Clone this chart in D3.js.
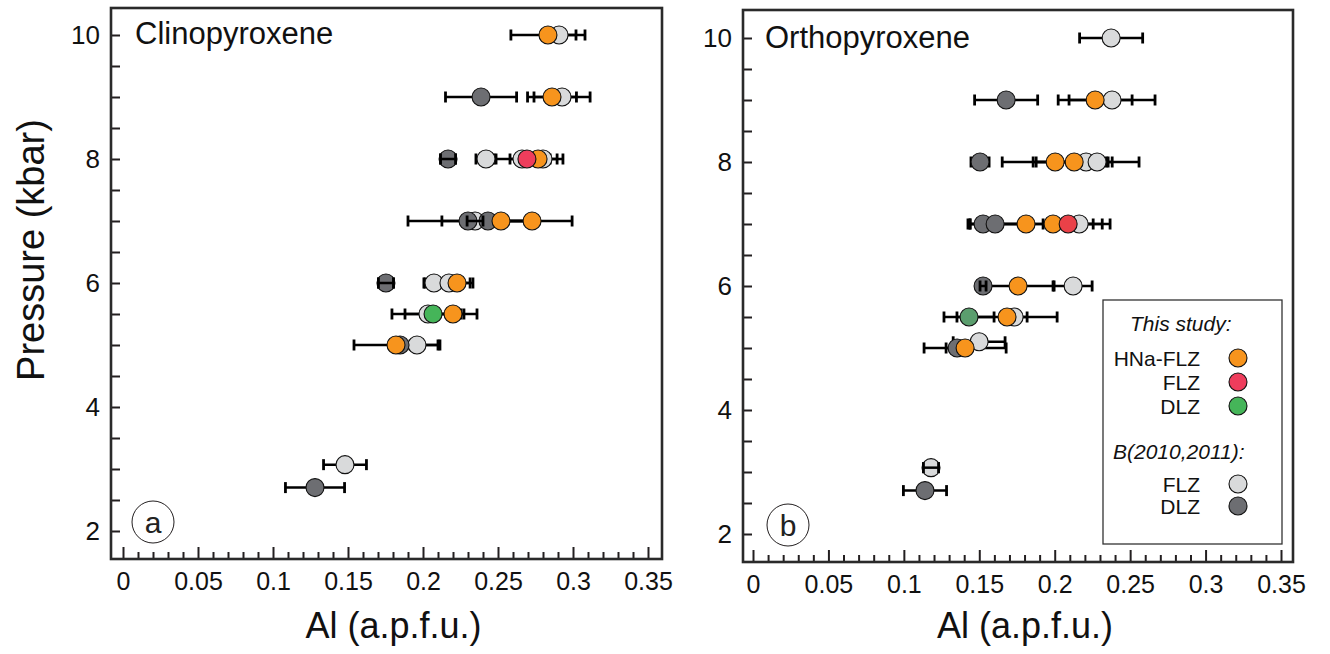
<!DOCTYPE html>
<html>
<head>
<meta charset="utf-8">
<script src="https://cdn.jsdelivr.net/npm/d3@7"></script>
<style>
  body { margin: 0; background: #fff; }
  svg { font-family: "Liberation Sans", Arial, sans-serif; }
</style>
</head>
<body>
<div id="chart"></div>
<script>
// ---- data: pressure (kbar), Al (a.p.f.u.), half error bar, group ----
// groups: bF = B(2010,2011) FLZ, bD = B(2010,2011) DLZ, hna = HNa-FLZ, flz = FLZ, dlz = DLZ

// Clinopyroxene
var cpxGroup = ["bF","bF","bF","bF","bF","bF","bF","bF","bF","bF","bF",
                "bD","bD","bD","bD","bD","bD","bD",
                "hna","hna","hna","hna","hna","hna","hna","hna",
                "flz","dlz"];
var cpxP   = [10, 9, 8, 8, 8, 7, 6, 6, 5.5, 5, 3.07,
              9, 8, 7, 7, 6, 5, 2.7,
              10, 9, 8, 7, 7, 6, 5.5, 5,
              8, 5.5];
var cpxAl  = [0.2907, 0.2927, 0.242, 0.266, 0.28, 0.2347, 0.2073, 0.2173, 0.2033, 0.196, 0.148,
              0.2387, 0.2167, 0.230, 0.2433, 0.1753, 0.1847, 0.128,
              0.2833, 0.286, 0.2767, 0.252, 0.2727, 0.2227, 0.22, 0.182,
              0.2693, 0.2067];
var cpxErr = [0.0113, 0.0187, 0.0067, 0.0187, 0.0133, 0.0053, 0.0067, 0.016, 0.024, 0.0153, 0.0143,
              0.0237, 0.005, 0.040, 0.0307, 0.005, 0.0067, 0.0197,
              0.0247, 0.0163, 0.0127, 0.0193, 0.0267, 0.0087, 0.016, 0.028,
              0.0113, 0.0187];

// Orthopyroxene
var opxGroup = ["bF","bF","bF","bF","bF","bF","bF","bF","bF",
                "bD","bD","bD","bD","bD","bD","bD",
                "hna","hna","hna","hna","hna","hna","hna","hna",
                "flz","dlz"];
var opxP   = [10, 9, 8, 8, 7, 6, 5.5, 5.1, 3.07,
              9, 8, 7, 7, 6, 5, 2.7,
              9, 8, 8, 7, 7, 6, 5.5, 5,
              7, 5.5];
var opxAl  = [0.2374, 0.238, 0.2208, 0.2281, 0.2162, 0.2122, 0.1731, 0.1499, 0.118,
              0.1678, 0.1505, 0.1525, 0.1605, 0.1525, 0.1353, 0.114,
              0.2268, 0.2003, 0.2129, 0.181, 0.1989, 0.1757, 0.1684, 0.1406,
              0.2089, 0.1432];
var opxErr = [0.0209, 0.0285, 0.0351, 0.006, 0.0153, 0.0126, 0.0086, 0.0172, 0.005,
              0.0209, 0.006, 0.0086, 0.0166, 0.002, 0.0073, 0.0143,
              0.0245, 0.0351, 0.0252, 0.0385, 0.0378, 0.0232, 0.0332, 0.0272,
              0.0166, 0.0166];

var xTicksMajor = [0, 0.05, 0.1, 0.15, 0.2, 0.25, 0.3, 0.35];
var yTickLabels = [2, 4, 6, 8, 10];

var legendStudy = ["HNa-FLZ", "FLZ", "DLZ"];
var legendStudyKeys = ["hna", "flz", "dlz"];
var legendB = ["FLZ", "DLZ"];
var legendBKeys = ["bF", "bD"];

var colors = {bF: "#D9DADB", bD: "#6D6E72", hna: "#F7941D", flz: "#EE3D5C", dlz: "#45B559"};
var colorsB = {bF: "#D9DADB", bD: "#6D6E72", hna: "#F7941D", flz: "#EA4148", dlz: "#5B9E6E"};

var W = 1330, H = 654, R = 9;

var svg = d3.select("#chart").append("svg")
    .attr("width", W)
    .attr("height", H);

function rows(g, p, al, e){
  var out = [];
  for(var i = 0; i < g.length; i++)
    out.push({g: g[i], p: p[i], al: al[i], err: e[i]});
  return out;
}

function panel(opt){
  var f = opt.frame;
  var x = d3.scaleLinear().domain([0, 0.35]).range([f.x0 + opt.padL, f.x0 + opt.padL + opt.xw]);
  var y = d3.scaleLinear().domain([2, 10]).range([f.y1 - opt.padB, f.y1 - opt.padB - 496]);
  var gp = svg.append("g");

  // minor x ticks
  var minor = d3.range(0, 0.3501, 0.01).filter(function(d){
    return Math.abs(d / 0.05 - Math.round(d / 0.05)) > 1e-6;
  });
  var xa = gp.append("g").attr("transform", "translate(0," + f.y1 + ")")
    .call(d3.axisBottom(x).tickValues(minor).tickSize(-7).tickFormat(""));
  var xb = gp.append("g").attr("transform", "translate(0," + f.y1 + ")")
    .call(d3.axisBottom(x).tickValues(xTicksMajor).tickSize(-12).tickPadding(13)
      .tickFormat(function(d){ return d === 0 ? "0" : String(+d.toFixed(2)); }));
  var ya = gp.append("g").attr("transform", "translate(" + f.x0 + ",0)")
    .call(d3.axisLeft(y).tickValues(d3.range(2, 10.01, 0.5)).tickSize(-9).tickPadding(11)
      .tickFormat(function(d){ return yTickLabels.indexOf(d) >= 0 ? d : ""; }));
  [xa, xb, ya].forEach(function(a){
    a.select(".domain").remove();
    a.selectAll("line").attr("stroke", "#231F20").attr("stroke-width", 2);
    a.selectAll("text").attr("font-size", 25).attr("fill", "#111")
      .attr("font-family", "Liberation Sans, Arial, sans-serif");
  });
  ya.selectAll("text").attr("font-size", 26);

  // frame
  gp.append("rect")
    .attr("x", f.x0).attr("y", f.y0)
    .attr("width", f.x1 - f.x0).attr("height", f.y1 - f.y0)
    .attr("fill", "none").attr("stroke", "#2a2a2a").attr("stroke-width", 2.6);

  // title
  gp.append("text").attr("x", opt.titleX).attr("y", opt.titleY)
    .attr("font-size", 31).attr("fill", "#111").text(opt.title);

  // panel letter
  gp.append("circle").attr("cx", opt.letterX).attr("cy", opt.letterY).attr("r", 21)
    .attr("fill", "none").attr("stroke", "#231F20").attr("stroke-width", 1);
  gp.append("text").attr("x", opt.letterX).attr("y", opt.letterY).attr("dy", "0.36em")
    .attr("text-anchor", "middle").attr("font-size", 30).attr("fill", "#222").text(opt.letter);

  // x title
  gp.append("text").attr("x", (f.x0 + f.x1) / 2 + 7).attr("y", 638)
    .attr("text-anchor", "middle").attr("font-size", 36).attr("fill", "#111")
    .text("Al (a.p.f.u.)");

  var data = opt.data;
  var col = opt.colors;

  function bars(sel){
    var b = sel.enter().append("g");
    b.append("line")
      .attr("x1", function(d){ return x(d.al - d.err); })
      .attr("x2", function(d){ return x(d.al + d.err); })
      .attr("y1", function(d){ return y(d.p); })
      .attr("y2", function(d){ return y(d.p); })
      .attr("stroke", "#000").attr("stroke-width", 2.5);
    [-1, 1].forEach(function(s){
      b.append("line")
        .attr("x1", function(d){ return x(d.al + s * d.err); })
        .attr("x2", function(d){ return x(d.al + s * d.err); })
        .attr("y1", function(d){ return y(d.p) - 5.5; })
        .attr("y2", function(d){ return y(d.p) + 5.5; })
        .attr("stroke", "#000").attr("stroke-width", 2.8);
    });
  }

  // error bars behind, circles, then short bars on top (otherwise hidden)
  gp.append("g").selectAll("g").data(data).call(bars);
  gp.append("g").selectAll("circle").data(data).enter().append("circle")
    .attr("cx", function(d){ return x(d.al); })
    .attr("cy", function(d){ return y(d.p); })
    .attr("r", R)
    .attr("fill", function(d){ return col[d.g]; })
    .attr("stroke", "#111").attr("stroke-width", 1.1);
  gp.append("g").selectAll("g")
    .data(data.filter(function(d){ return x(d.al + d.err) - x(d.al) <= R; }))
    .call(bars);

  return gp;
}

panel({
  frame: {x0: 111, x1: 662, y0: 8, y1: 559},
  padL: 12, xw: 525, padB: 28,
  title: "Clinopyroxene", titleX: 135, titleY: 44,
  letter: "a", letterX: 153, letterY: 522,
  colors: colors,
  data: rows(cpxGroup, cpxP, cpxAl, cpxErr)
});

panel({
  frame: {x0: 743, x1: 1293, y0: 10, y1: 562},
  padL: 10, xw: 528, padB: 28,
  title: "Orthopyroxene", titleX: 765, titleY: 48,
  letter: "b", letterX: 788, letterY: 525,
  colors: colorsB,
  data: rows(opxGroup, opxP, opxAl, opxErr)
});

// y title (panel a only)
svg.append("text")
  .attr("transform", "translate(44,250) rotate(-90)")
  .attr("text-anchor", "middle").attr("font-size", 38).attr("fill", "#111")
  .text("Pressure (kbar)");

// legend
var lg = svg.append("g");
lg.append("rect").attr("x", 1103).attr("y", 300).attr("width", 179).attr("height", 244)
  .attr("fill", "#fff").attr("stroke", "#333").attr("stroke-width", 1.3);
lg.append("text").attr("x", 1130).attr("y", 331).attr("font-size", 21)
  .attr("font-style", "italic").attr("fill", "#111").text("This study:");
legendStudy.forEach(function(t, i){
  var cy = 358 + i * 24;
  lg.append("text").attr("x", 1200).attr("y", cy).attr("dy", "0.36em")
    .attr("text-anchor", "end").attr("font-size", 21).attr("fill", "#111").text(t);
  lg.append("circle").attr("cx", 1238).attr("cy", cy).attr("r", R)
    .attr("fill", colors[legendStudyKeys[i]]).attr("stroke", "#111").attr("stroke-width", 1.1);
});
lg.append("text").attr("x", 1113).attr("y", 459).attr("font-size", 21)
  .attr("font-style", "italic").attr("fill", "#111").text("B(2010,2011):");
legendB.forEach(function(t, i){
  var cy = 484 + i * 22;
  lg.append("text").attr("x", 1200).attr("y", cy).attr("dy", "0.36em")
    .attr("text-anchor", "end").attr("font-size", 21).attr("fill", "#111").text(t);
  lg.append("circle").attr("cx", 1238).attr("cy", cy).attr("r", R)
    .attr("fill", colors[legendBKeys[i]]).attr("stroke", "#111").attr("stroke-width", 1.1);
});
</script>
</body>
</html>
